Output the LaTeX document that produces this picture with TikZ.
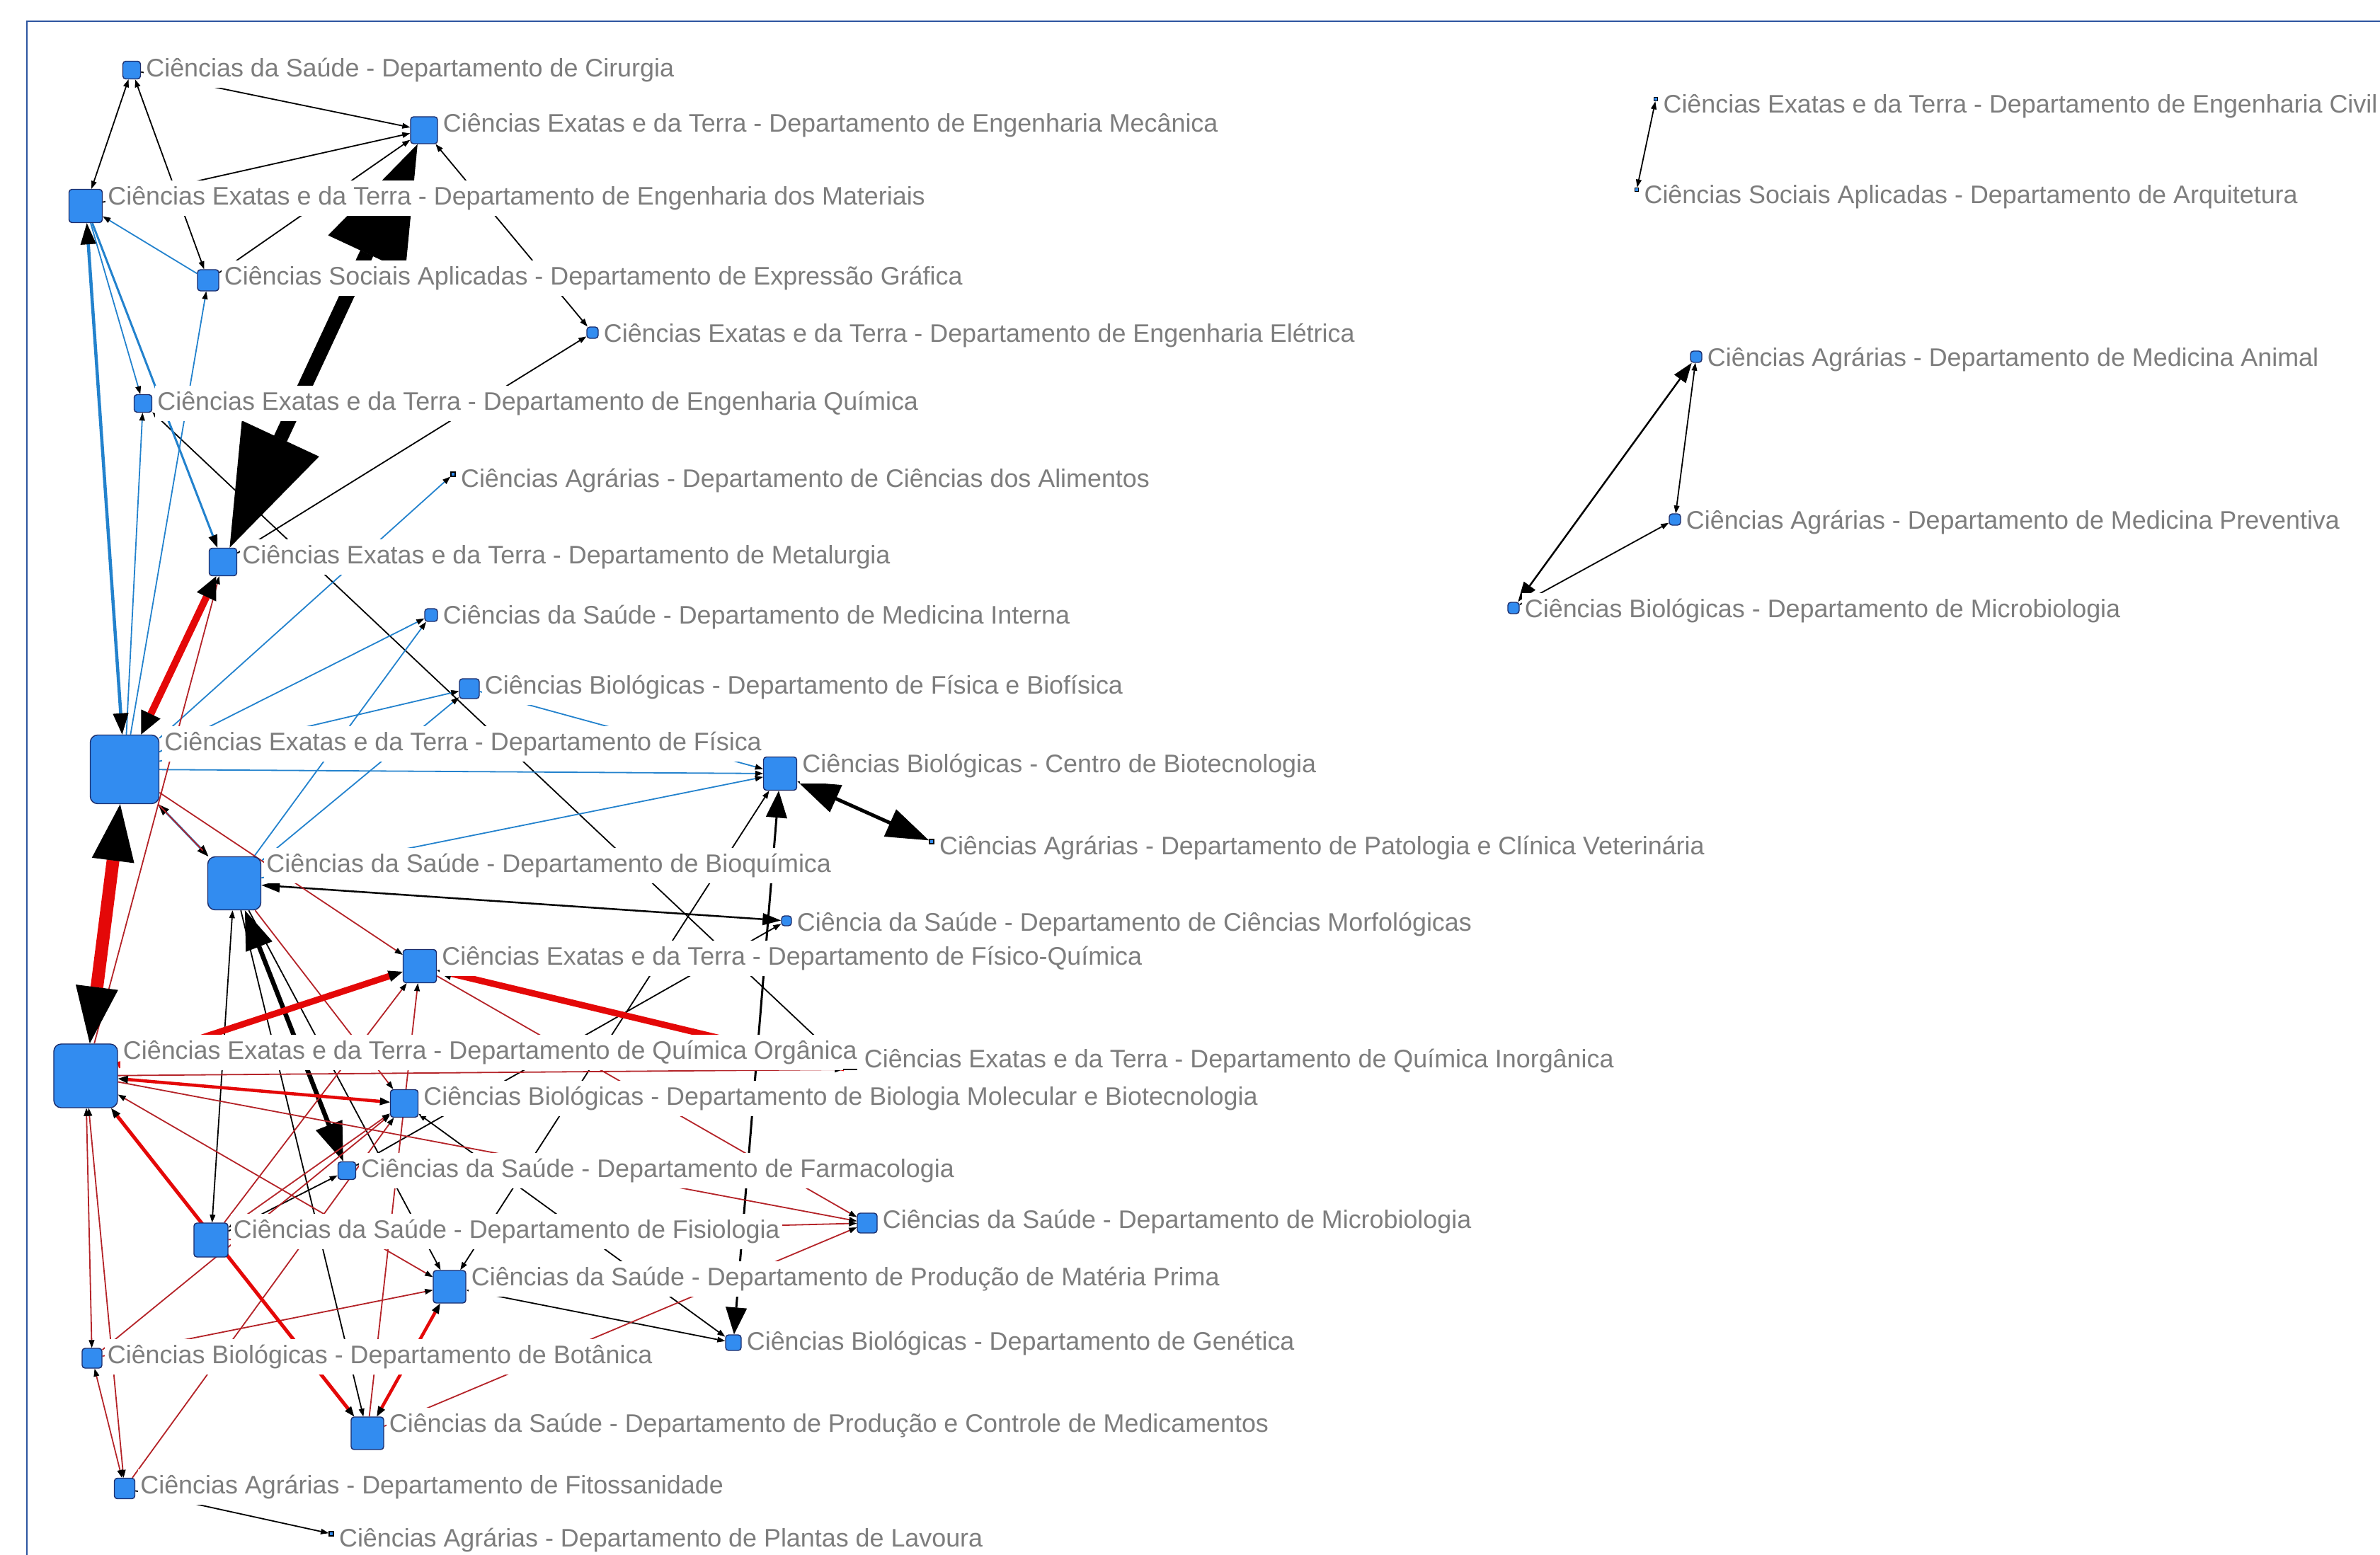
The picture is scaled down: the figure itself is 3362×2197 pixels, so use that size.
\documentclass[tikz,border=0pt]{standalone}
\usepackage{fontspec}
\setmainfont{Liberation Sans}
\usetikzlibrary{arrows.meta,positioning}

\definecolor{deptfill}{RGB}{50,140,240}
\definecolor{deptdraw}{RGB}{28,45,107}
\definecolor{lblgray}{RGB}{125,125,125}
\definecolor{tieblue}{RGB}{35,130,205}
\definecolor{tiered}{RGB}{228,8,8}
\definecolor{tiedred}{RGB}{180,35,40}
\definecolor{framebl}{RGB}{45,85,160}

\pgfdeclarelayer{ties}
\pgfdeclarelayer{lbls}
\pgfsetlayers{ties,lbls,main}

\tikzset{%
  dept/.style={rectangle, draw=deptdraw, fill=deptfill, line width=0.4pt, rounded corners=1.2pt, inner sep=0pt, minimum size=#1},
  bigdept/.style={dept=#1, rounded corners=3pt},
  dot/.style={rectangle, draw=black, fill=deptfill, line width=0.5pt, inner sep=0pt, minimum size=0.06cm},
  lbl/.style={fill=white, text=lblgray, inner xsep=1pt, inner ysep=0pt, minimum height=0.5cm, text height=0.27cm, text depth=0.08cm, font=\fontsize{10.2pt}{12pt}\selectfont},
  lnk/.style={line width=0.018cm, >={Triangle[length=0.11cm,width=0.08cm,line width=0.2pt,color=black]}},
  heavy/.style n args={3}{line width=#1, >={Triangle[length=#2,width=#3,line width=0.3pt,color=black]}},
  blk/.style={lnk, draw=black},
  blu/.style={lnk, draw=tieblue},
  rd/.style={lnk, draw=tiedred},
}

\begin{document}
\begin{tikzpicture}[x=0.01cm, y=-0.01cm]
  \useasboundingbox (0,0) rectangle (3362,2197);
  % frame
  \draw[framebl, line width=0.6pt] (38,2197) -- (38,30) -- (3362,30);

  % departments
  \node[dept=0.25cm] (cir) at (186,99) {};
  \node[dept=0.38cm] (mec) at (599,184) {};
  \node[dept=0.47cm] (mat) at (121,291) {};
  \node[dept=0.30cm] (exg) at (294,396) {};
  \node[dept=0.16cm] (ele) at (837,470) {};
  \node[dept=0.25cm] (equ) at (202,570) {};
  \node[dot] (ali) at (640,670) {};
  \node[dept=0.39cm] (met) at (315,794) {};
  \node[dept=0.18cm] (mint) at (609,869) {};
  \node[dept=0.28cm] (fbf) at (663,973) {};
  \node[bigdept=0.97cm] (fis) at (176,1087) {};
  \node[dept=0.47cm] (cbt) at (1102,1093) {};
  \node[dot] (pat) at (1316,1189) {};
  \node[bigdept=0.75cm] (bioq) at (331,1248) {};
  \node[dept=0.14cm] (mor) at (1111,1301) {};
  \node[dept=0.47cm] (fq) at (593,1365) {};
  \node[bigdept=0.9cm] (qo) at (121,1520) {};
  \node[fill=black, inner sep=0pt, minimum width=0.2cm, minimum height=0.025cm] (qi) at (1201,1511) {};
  \node[dept=0.39cm] (bmol) at (571,1559) {};
  \node[dept=0.25cm] (far) at (490,1654) {};
  \node[dept=0.28cm] (msa) at (1225,1728) {};
  \node[dept=0.48cm] (fisi) at (298,1752) {};
  \node[dept=0.46cm] (pmp) at (635,1818) {};
  \node[dept=0.22cm] (gen) at (1036,1897) {};
  \node[dept=0.28cm] (bot) at (130,1919) {};
  \node[dept=0.46cm] (pcm) at (519,2025) {};
  \node[dept=0.29cm] (fit) at (176,2103) {};
  \node[dot] (pla) at (468,2167) {};
  \node[dot, minimum size=0.05cm] (civ) at (2339,140) {};
  \node[dot, minimum size=0.05cm] (arq) at (2312,268) {};
  \node[dept=0.16cm] (man) at (2396,504) {};
  \node[dept=0.16cm] (mpr) at (2366,734) {};
  \node[dept=0.16cm] (mbi) at (2138,859) {};

  % names
  \begin{pgfonlayer}{lbls}
  \node[lbl, right=0.03cm of cir.north east, yshift=-0.13cm] (cir-l) {Ciências da Saúde - Departamento de Cirurgia};
  \node[lbl, right=0.03cm of mec.north east, yshift=-0.13cm] (mec-l) {Ciências Exatas e da Terra - Departamento de Engenharia Mecânica};
  \node[lbl, right=0.03cm of mat.north east, yshift=-0.13cm] (mat-l) {Ciências Exatas e da Terra - Departamento de Engenharia dos Materiais};
  \node[lbl, right=0.03cm of exg.north east, yshift=-0.13cm] (exg-l) {Ciências Sociais Aplicadas - Departamento de Expressão Gráfica};
  \node[lbl, right=0.03cm of ele.north east, yshift=-0.13cm] (ele-l) {Ciências Exatas e da Terra - Departamento de Engenharia Elétrica};
  \node[lbl, right=0.03cm of equ.north east, yshift=-0.13cm] (equ-l) {Ciências Exatas e da Terra - Departamento de Engenharia Química};
  \node[lbl, right=0.03cm of ali.north east, yshift=-0.13cm] (ali-l) {Ciências Agrárias - Departamento de Ciências dos Alimentos};
  \node[lbl, right=0.03cm of met.north east, yshift=-0.13cm] (met-l) {Ciências Exatas e da Terra - Departamento de Metalurgia};
  \node[lbl, right=0.03cm of mint.north east, yshift=-0.13cm] (mint-l) {Ciências da Saúde - Departamento de Medicina Interna};
  \node[lbl, right=0.03cm of fbf.north east, yshift=-0.13cm] (fbf-l) {Ciências Biológicas - Departamento de Física e Biofísica};
  \node[lbl, right=0.03cm of fis.north east, yshift=-0.13cm] (fis-l) {Ciências Exatas e da Terra - Departamento de Física};
  \node[lbl, right=0.03cm of cbt.north east, yshift=-0.13cm] (cbt-l) {Ciências Biológicas - Centro de Biotecnologia};
  \node[lbl, right=0.03cm of pat.north east, yshift=-0.13cm] (pat-l) {Ciências Agrárias - Departamento de Patologia e Clínica Veterinária};
  \node[lbl, right=0.03cm of bioq.north east, yshift=-0.13cm] (bioq-l) {Ciências da Saúde - Departamento de Bioquímica};
  \node[lbl, right=0.03cm of mor.north east, yshift=-0.13cm] (mor-l) {Ciência da Saúde - Departamento de Ciências Morfológicas};
  \node[lbl, right=0.03cm of fq.north east, yshift=-0.13cm] (fq-l) {Ciências Exatas e da Terra - Departamento de Físico-Química};
  \node[lbl, right=0.03cm of qo.north east, yshift=-0.13cm] (qo-l) {Ciências Exatas e da Terra - Departamento de Química Orgânica};
  \node[lbl, right=0.05cm of qi.east, yshift=0.12cm] (qi-l) {Ciências Exatas e da Terra - Departamento de Química Inorgânica};
  \node[lbl, right=0.03cm of bmol.north east, yshift=-0.13cm] (bmol-l) {Ciências Biológicas - Departamento de Biologia Molecular e Biotecnologia};
  \node[lbl, right=0.03cm of far.north east, yshift=-0.13cm] (far-l) {Ciências da Saúde - Departamento de Farmacologia};
  \node[lbl, right=0.03cm of msa.north east, yshift=-0.13cm] (msa-l) {Ciências da Saúde - Departamento de Microbiologia};
  \node[lbl, right=0.03cm of fisi.north east, yshift=-0.13cm] (fisi-l) {Ciências da Saúde - Departamento de Fisiologia};
  \node[lbl, right=0.03cm of pmp.north east, yshift=-0.13cm] (pmp-l) {Ciências da Saúde - Departamento de Produção de Matéria Prima};
  \node[lbl, right=0.03cm of gen.north east, yshift=-0.13cm] (gen-l) {Ciências Biológicas - Departamento de Genética};
  \node[lbl, right=0.03cm of bot.north east, yshift=-0.13cm] (bot-l) {Ciências Biológicas - Departamento de Botânica};
  \node[lbl, right=0.03cm of pcm.north east, yshift=-0.13cm] (pcm-l) {Ciências da Saúde - Departamento de Produção e Controle de Medicamentos};
  \node[lbl, right=0.03cm of fit.north east, yshift=-0.13cm] (fit-l) {Ciências Agrárias - Departamento de Fitossanidade};
  \node[lbl, right=0.03cm of pla.north east, yshift=-0.13cm] (pla-l) {Ciências Agrárias - Departamento de Plantas de Lavoura};
  \node[lbl, right=0.03cm of civ.north east, yshift=-0.13cm] (civ-l) {Ciências Exatas e da Terra - Departamento de Engenharia Civil};
  \node[lbl, right=0.03cm of arq.north east, yshift=-0.13cm] (arq-l) {Ciências Sociais Aplicadas - Departamento de Arquitetura};
  \node[lbl, right=0.03cm of man.north east, yshift=-0.13cm] (man-l) {Ciências Agrárias - Departamento de Medicina Animal};
  \node[lbl, right=0.03cm of mpr.north east, yshift=-0.13cm] (mpr-l) {Ciências Agrárias - Departamento de Medicina Preventiva};
  \node[lbl, right=0.03cm of mbi.north east, yshift=-0.13cm] (mbi-l) {Ciências Biológicas - Departamento de Microbiologia};
  \end{pgfonlayer}

  % ties
  \begin{pgfonlayer}{ties}
  % black, one way
  \foreach \p/\q in {cir/mec, mat/mec, exg/mec, met/ele, qi/equ, far/mor, fisi/far,
                     bioq/pcm, bioq/pmp, fit/pla, mbi/mpr}
    \draw[blk, ->] (\p) -- (\q);
  % black, both ways
  \foreach \p/\q in {cir/mat, cir/exg, mec/ele, pmp/cbt, bmol/gen, pmp/gen,
                     bioq/fisi, civ/arq, man/mpr}
    \draw[blk, <->] (\p) -- (\q);
  % black, heavy
  \draw[blk, heavy={0.2cm}{1.7cm}{1.2cm}, <->] (met) -- (mec);
  \draw[blk, heavy={0.065cm}{0.55cm}{0.4cm}, <->] (bioq) -- (far);
  \draw[blk, heavy={0.05cm}{0.6cm}{0.42cm}, <->] (cbt) -- (pat);
  \draw[blk, heavy={0.03cm}{0.38cm}{0.3cm}, <->] (gen) -- (cbt);
  \draw[blk, heavy={0.025cm}{0.28cm}{0.2cm}, <->] (man) -- (mbi);
  \draw[blk, heavy={0.025cm}{0.26cm}{0.17cm}, <->] (bioq) -- (mor);
  % blue
  \foreach \p/\q in {mat/equ, exg/mat, fis/equ, fis/exg, fis/ali, fis/mint, fis/fbf,
                     fis/cbt, bioq/mint, bioq/fbf, bioq/cbt, fbf/cbt}
    \draw[blu, ->] (\p) -- (\q);
  \draw[blu, heavy={0.045cm}{0.3cm}{0.22cm}, <->] (fis) -- (mat);
  \draw[blu, heavy={0.03cm}{0.18cm}{0.13cm}, ->] (mat) -- (met);
  \draw[blu, heavy={0.03cm}{0.16cm}{0.12cm}, <->] (fis) -- (bioq);
  % red, one way
  \foreach \p/\q in {qo/met, qo/qi, qo/msa, fisi/msa, fq/msa, pcm/msa, bot/pmp,
                     bot/bmol, fit/bmol, fisi/fq, pcm/fq, fis/fq, fis/bioq, bioq/bmol}
    \draw[rd, ->] (\p) -- (\q);
  % red, both ways
  \foreach \p/\q in {qo/pmp, qo/bot, qo/fit, bot/fit, fisi/bmol}
    \draw[rd, <->] (\p) -- (\q);
  % red, heavy
  \draw[rd, tiered, heavy={0.1cm}{0.32cm}{0.3cm}, <->] (fis) -- (met);
  \draw[rd, tiered, heavy={0.18cm}{0.8cm}{0.6cm}, <->] (fis) -- (qo);
  \draw[rd, tiered, heavy={0.09cm}{0.2cm}{0.16cm}, ->] (qo) -- (fq);
  \draw[rd, tiered, heavy={0.09cm}{0.21cm}{0.18cm}, ->] (qi) -- (fq);
  \draw[rd, tiered, heavy={0.045cm}{0.14cm}{0.11cm}, <->] (qo) -- (bmol);
  \draw[rd, tiered, heavy={0.05cm}{0.14cm}{0.11cm}, <->] (qo) -- (pcm);
  \draw[rd, tiered, heavy={0.045cm}{0.14cm}{0.11cm}, <->] (pcm) -- (pmp);
  \end{pgfonlayer}
\end{tikzpicture}
\end{document}
